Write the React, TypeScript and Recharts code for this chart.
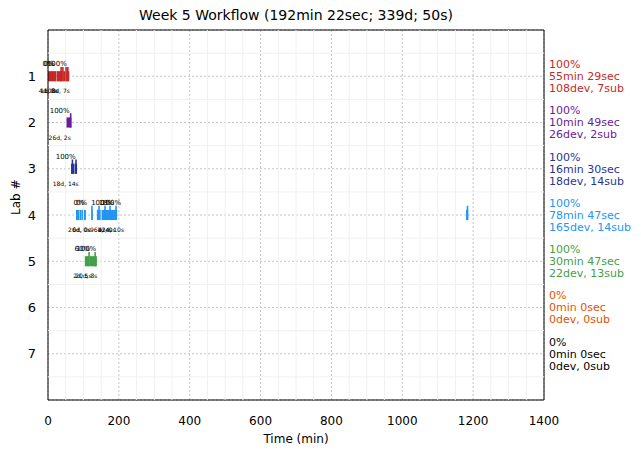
import {
  ComposedChart,
  XAxis,
  YAxis,
  CartesianGrid,
  ReferenceArea,
  ReferenceLine,
  Scatter,
} from "recharts";

// lab rows and colours
const labs = [1, 2, 3, 4, 5, 6, 7];
const labColors = ["#c62828", "#6a1b9a", "#283593", "#2196f3", "#43a047", "#e65100", "#000000"];

// right-hand summary per lab
const labPct = ["100%", "100%", "100%", "100%", "100%", "0%", "0%"];
const labTime = ["55min 29sec", "10min 49sec", "16min 30sec", "78min 47sec", "30min 47sec", "0min 0sec", "0min 0sec"];
const labCounts = ["108dev, 7sub", "26dev, 2sub", "18dev, 14sub", "165dev, 14sub", "22dev, 13sub", "0dev, 0sub", "0dev, 0sub"];

// work segments [lab, start min, end min]
const segments: [number, number, number][] = [
  [1, 0, 24], [1, 25, 41], [1, 43, 60],
  [2, 52, 66],
  [3, 65, 74], [3, 75, 82],
  [4, 79, 88], [4, 89, 95], [4, 96, 107], [4, 123, 126], [4, 138, 195], [4, 1180, 1186],
  [5, 104, 116], [5, 118, 138],
];

// submissions [lab, time min]
const submissions: [number, number][] = [
  [1, 37], [1, 42], [1, 51], [1, 56],
  [2, 64],
  [3, 69], [3, 79],
  [4, 124], [4, 144], [4, 161], [4, 175], [4, 192], [4, 1184],
  [5, 116], [5, 133],
];

// cluster annotations [lab, time min, percent, info]
const clusters: [number, number, string, string][] = [
  [1, 0, "0%", "4d, 0s"],
  [1, 4, "0%", "1d, 0s"],
  [1, 25, "100%", "108d, 7s"],
  [2, 33, "100%", "26d, 2s"],
  [3, 50, "100%", "18d, 14s"],
  [4, 88, "0%", "26d, 0s"],
  [4, 95, "0%", "0d, 0s"],
  [4, 150, "100%", "96d, 4s"],
  [4, 165, "18%", "1d, 0s"],
  [4, 178, "100%", "42d, 10s"],
  [5, 97, "60%", "2d, 5s"],
  [5, 108, "100%", "20d, 8s"],
];

const xTicks = [0, 200, 400, 600, 800, 1000, 1200, 1400];
const xMinor = Array.from({ length: 29 }, (_, i) => i * 50).filter((v) => v % 200 !== 0);
const yMinor = [0.5, 1.5, 2.5, 3.5, 4.5, 5.5, 6.5, 7.5];

const font = "DejaVu Sans, sans-serif";

const clusterData = clusters.map(([lab, t, pct, info]) => ({ lab, t, pct, info }));
const summaryData = labs.map((lab, i) => ({
  lab,
  t: 1400,
  color: labColors[i],
  pct: labPct[i],
  time: labTime[i],
  counts: labCounts[i],
}));

const ClusterLabel = (props: any) => {
  const { cx, cy, payload } = props;
  return (
    <g fontFamily={font}>
      <text x={cx} y={cy - 10} textAnchor="middle" fontSize={7} fill="#000">{payload.pct}</text>
      <text x={cx} y={cy + 17} textAnchor="middle" fontSize={6} fill="#000">{payload.info}</text>
    </g>
  );
};

const SummaryLabel = (props: any) => {
  const { cx, cy, payload } = props;
  const c = payload.color;
  return (
    <g fontFamily={font}>
      <text x={cx + 5} y={cy - 12} dy="0.35em" fontSize={11} fill={c}>{payload.pct}</text>
      <text x={cx + 5} y={cy} dy="0.35em" fontSize={11} fill={c}>{payload.time}</text>
      <text x={cx + 5} y={cy + 12} dy="0.35em" fontSize={11} fill={c}>{payload.counts}</text>
    </g>
  );
};

export default function App() {
  return (
    <div style={{ position: "absolute", left: 0, top: 0, width: 641, height: 453, background: "#fff" }}>
      <div
        style={{
          position: "absolute",
          left: 0,
          top: 7,
          width: 592,
          textAlign: "center",
          fontFamily: font,
          fontSize: 14,
          color: "#000",
        }}
      >
        Week 5 Workflow (192min 22sec; 339d; 50s)
      </div>
      <ComposedChart
        width={641}
        height={453}
        margin={{ top: 30, right: 97, bottom: 0, left: 0 }}
        style={{ fontFamily: font }}
      >
        {xMinor.map((v) => (
          <ReferenceLine key={"mx" + v} x={v} stroke="#f0f0f0" strokeWidth={1} />
        ))}
        {yMinor.map((v) => (
          <ReferenceLine key={"my" + v} y={v} stroke="#f0f0f0" strokeWidth={1} />
        ))}
        <CartesianGrid stroke="#c4c4c4" strokeDasharray="2 2" />
        <XAxis
          type="number"
          dataKey="t"
          domain={[0, 1400]}
          ticks={xTicks}
          height={53}
          tickLine={false}
          axisLine={false}
          tickMargin={10}
          tick={{ fontSize: 12, fill: "#000" }}
          label={{ value: "Time (min)", position: "insideBottom", offset: 10, fontSize: 12, fill: "#000" }}
        />
        <YAxis
          type="number"
          dataKey="lab"
          domain={[0, 8]}
          ticks={labs}
          reversed
          width={48}
          tickLine={false}
          axisLine={false}
          tickMargin={6}
          tick={{ fontSize: 13, fill: "#000" }}
          label={{ value: "Lab #", angle: -90, position: "insideLeft", offset: 16, fontSize: 12, fill: "#000" }}
        />
        {segments.map(([lab, a, b], i) => (
          <ReferenceArea
            key={"s" + i}
            x1={a}
            x2={b}
            y1={lab - 0.11}
            y2={lab + 0.11}
            fill={labColors[lab - 1]}
            fillOpacity={1}
            stroke="none"
          />
        ))}
        {submissions.map(([lab, t], i) => (
          <ReferenceLine
            key={"u" + i}
            segment={[
              { x: t, y: lab - 0.2 },
              { x: t, y: lab + 0.11 },
            ]}
            stroke={labColors[lab - 1]}
            strokeWidth={1.6}
          />
        ))}
        <Scatter data={clusterData} dataKey="lab" shape={<ClusterLabel />} isAnimationActive={false} />
        <Scatter data={summaryData} dataKey="lab" shape={<SummaryLabel />} isAnimationActive={false} />
        <ReferenceArea x1={0} x2={1400} y1={0} y2={8} fill="none" stroke="#000" strokeWidth={1} />
      </ComposedChart>
    </div>
  );
}
